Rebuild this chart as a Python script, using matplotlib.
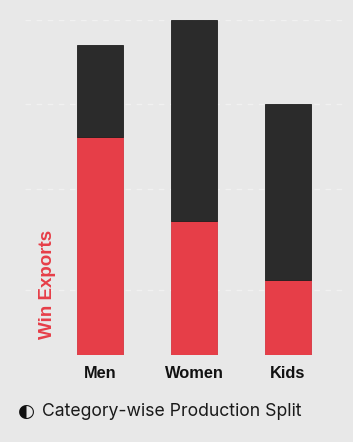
import matplotlib
matplotlib.use("Agg")
import matplotlib.pyplot as plt

categories = ["Men", "Women", "Kids"]
win_exports = [260, 160, 90]
other_production = [110, 240, 210]
grid_values = [78, 198, 300, 400]

BG = "#e8e8e8"
RED = "#e63e48"
DARK = "#2b2b2b"

fig = plt.figure(figsize=(3.53, 4.42), dpi=100, facecolor=BG)
ax = fig.add_axes([25/353, 1-355/442, 318/353, 335/442], facecolor=BG)

x = list(range(len(categories)))
ax.bar(x, win_exports, width=0.49, color=RED, edgecolor="#d63540", linewidth=0.6, zorder=3)
ax.bar(x, other_production, bottom=win_exports, width=0.49, color=DARK,
       edgecolor="#1e1e1e", linewidth=0.6, zorder=3)

for g in grid_values:
    ax.axhline(g, color="#f1f1f1", linewidth=1.0, linestyle=(0, (4, 4)), zorder=1)

ax.set_xlim(-0.80, 2.585)
ax.set_ylim(0, 400)
ax.set_xticks(x)
ax.set_xticklabels(categories, fontfamily="Liberation Sans", fontweight="bold",
                   fontsize=11.8, color="#111111")
ax.tick_params(axis="x", length=0, pad=8)
ax.set_yticks([])
for s in ax.spines.values():
    s.set_visible(False)

fig.text(47/353, 1-284/442, "Win Exports", rotation=90, color=RED,
         fontfamily="Liberation Sans", fontweight="bold", fontsize=13.5,
         ha="center", va="center")

fig.text(18/353, 1-411/442, "\u25d0", fontfamily="DejaVu Sans", fontsize=14,
         color="#111111", ha="left", va="center")
fig.text(42/353, 1-411/442, "Category-wise Production Split",
         fontfamily="Inter", fontsize=12.7, color="#1a1a1a",
         ha="left", va="center")

fig.savefig("out.png", dpi=100, facecolor=BG)
